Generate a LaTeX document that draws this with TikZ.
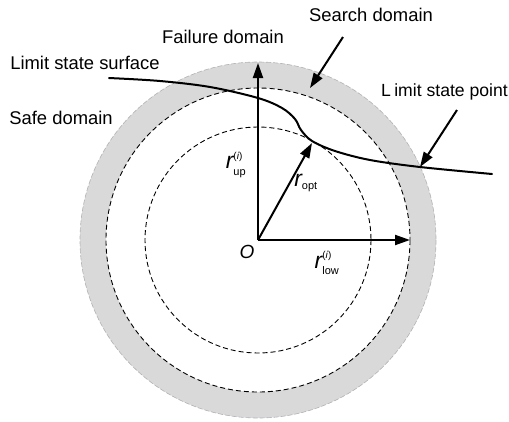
\documentclass[tikz,border=0pt]{standalone}
\usepackage{fontspec}
\setmainfont{Liberation Sans}
\usepackage{amsmath}
\usetikzlibrary{arrows.meta}
\begin{document}
\begin{tikzpicture}[x=1pt,y=-1pt,
  lbl/.style={font=\fontsize{18.4}{20}\selectfont, inner sep=0pt},
  thickarrow/.style={line width=2pt, -{Triangle[length=15pt,width=10pt]}},
  dcirc/.style={dash pattern=on 5pt off 3pt, line width=0.9pt},
  sym/.style={font=\fontsize{23}{25}\selectfont, inner sep=0pt}]
\useasboundingbox (0,0) rectangle (509,421);
\coordinate (O) at (258,240);
% ring
\fill[gray!30, even odd rule] (O) circle[radius=178] (O) circle[radius=152];
\draw[gray!60, dash pattern=on 5pt off 2pt, line width=0.6pt] (O) circle[radius=178];
\draw[dcirc] (O) circle[radius=152];
\draw[dcirc] (O) circle[radius=113];
% limit state surface
\draw[line width=2pt, line cap=round] plot[smooth, tension=0.55] coordinates {
  (109,78) (160,81) (210,87) (258,98) (282,108) (295,119) (301,130)
  (312,141) (335,151) (370,160) (420,167) (492,174)};
% arrow end points
\coordinate (Utop) at (258,63);
\coordinate (Rlow) at (410,240);
\coordinate (Popt) at (312,143);
\draw[thickarrow] (O) -- (Utop);
\draw[thickarrow] (O) -- (Rlow);
\draw[thickarrow] (O) -- (Popt);
% labels
\node[lbl] (search) at (371,15) {Search domain};
\node[lbl] (failure) at (223,37) {Failure domain};
\node[lbl] (lss) at (85,63) {Limit state surface};
\node[lbl] (safe) at (61,118) {Safe domain};
\node[lbl, anchor=east, font=\fontsize{17.6}{20}\selectfont] (lsp) at (508,92) {L\kern3.5pt imit state point};
% pointer arrows
\coordinate (sdA) at (343,37);
\coordinate (sdB) at (310,88);
\coordinate (lpA) at (457,110);
\coordinate (lpB) at (420,167);
\draw[thickarrow] (sdA) -- (sdB);
\draw[thickarrow] (lpA) -- (lpB);
% symbols
\node[sym, font=\fontsize{19}{21}\selectfont] (Olbl) at (247,252) {\textit{O}};
\node[sym] (rup) at (236,165) {$\textit{r}^{\text{\fontsize{10}{10}\selectfont(\textit{i})}}_{\text{\fontsize{11}{11}\selectfont up}}$};
\node[sym] (ropt) at (306,183) {$\textit{r}_{\text{\fontsize{11}{11}\selectfont opt}}$};
\node[sym] (rlow) at (327,263) {$\textit{r}^{\text{\fontsize{10}{10}\selectfont(\textit{i})}}_{\text{\fontsize{11}{11}\selectfont low}}$};
\end{tikzpicture}
\end{document}
